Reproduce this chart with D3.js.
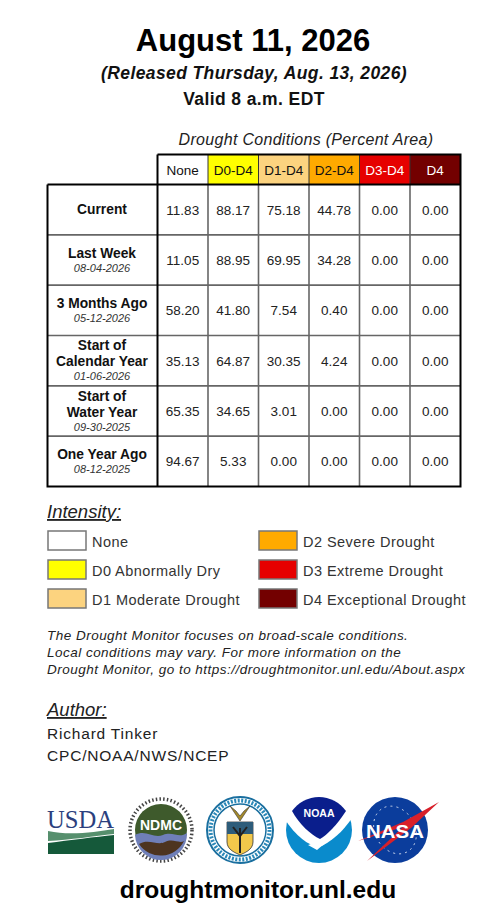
<!DOCTYPE html>
<html><head><meta charset="utf-8">
<script src="https://cdn.jsdelivr.net/npm/d3@7/dist/d3.min.js"></script>
<style>html,body{margin:0;padding:0;background:#fff}svg{display:block}text{font-family:"Liberation Sans",Arial,sans-serif;fill:#111}</style>
</head><body><div id="c"></div>
<script>
const columns=["None","D0-D4","D1-D4","D2-D4","D3-D4","D4"];
const columnFills=["#ffffff","#ffff00","#fcd37f","#ffaa00","#e60000","#730000"];
const columnText=["#111","#111","#111","#111","#fff","#fff"];
const rowLabels=[["Current"],["Last Week"],["3 Months Ago"],["Start of","Calendar Year"],["Start of","Water Year"],["One Year Ago"]];
const rowDates=["","08-04-2026","05-12-2026","01-06-2026","09-30-2025","08-12-2025"];
const valuesNone=[11.83,11.05,58.20,35.13,65.35,94.67];
const valuesD0=[88.17,88.95,41.80,64.87,34.65,5.33];
const valuesD1=[75.18,69.95,7.54,30.35,3.01,0.00];
const valuesD2=[44.78,34.28,0.40,4.24,0.00,0.00];
const valuesD3=[0,0,0,0,0,0];
const valuesD4=[0,0,0,0,0,0];
const seriesValues=[valuesNone,valuesD0,valuesD1,valuesD2,valuesD3,valuesD4];
const legendLeft=[["None","#ffffff"],["D0 Abnormally Dry","#ffff00"],["D1 Moderate Drought","#fcd37f"]];
const legendRight=[["D2 Severe Drought","#ffaa00"],["D3 Extreme Drought","#e60000"],["D4 Exceptional Drought","#730000"]];
const note=["The Drought Monitor focuses on broad-scale conditions.","Local conditions may vary. For more information on the","Drought Monitor, go to https://droughtmonitor.unl.edu/About.aspx"];
const authorLines=["Richard Tinker","CPC/NOAA/NWS/NCEP"];

const svg=d3.select("#c").append("svg").attr("width",481).attr("height",916);
const T=(x,y,s,size,o={})=>svg.append("text").attr("x",x).attr("y",y).text(s).attr("font-size",size)
 .attr("text-anchor",o.a||"start").attr("font-weight",o.b?"bold":null).attr("font-style",o.i?"italic":null)
 .style("fill",o.c||null).attr("text-decoration",o.u?"underline":null).attr("letter-spacing",o.ls||null);
T(253,51,"August 11, 2026",31,{a:"middle",b:1,c:"#000"});
T(254,79,"(Released Thursday, Aug. 13, 2026)",17.5,{a:"middle",b:1,i:1,ls:.4});
T(254,105,"Valid 8 a.m. EDT",17.5,{a:"middle",b:1,ls:.4});
T(306,145,"Drought Conditions (Percent Area)",16,{a:"middle",i:1,c:"#222",ls:.3});

const x=d3.scaleBand().domain(d3.range(columns.length)).range([157.5,460.5]);
const y=d3.scaleBand().domain(d3.range(rowLabels.length)).range([184.5,486.5]);
const headTop=154.5;
svg.selectAll("rect.h").data(columns).join("rect").attr("x",(d,i)=>x(i)).attr("y",headTop)
 .attr("width",x.bandwidth()).attr("height",y(0)-headTop).attr("fill",(d,i)=>columnFills[i]);
svg.selectAll("text.h").data(columns).join("text").attr("x",(d,i)=>x(i)+x.bandwidth()/2).attr("y",175)
 .attr("text-anchor","middle").attr("font-size",13.5).text(d=>d).style("fill",(d,i)=>columnText[i]);
const grey="#666";
svg.selectAll("line.v").data(d3.range(1,columns.length)).join("line").attr("x1",i=>x(i)).attr("x2",i=>x(i))
 .attr("y1",y(0)).attr("y2",486.5).attr("stroke",grey).attr("stroke-width",1.6);
svg.selectAll("line.hr").data(d3.range(1,rowLabels.length)).join("line").attr("y1",i=>y(i)).attr("y2",i=>y(i))
 .attr("x1",47.5).attr("x2",460.5).attr("stroke",grey).attr("stroke-width",1.6);
svg.selectAll("line.hv").data(d3.range(1,columns.length)).join("line").attr("x1",i=>x(i)).attr("x2",i=>x(i))
 .attr("y1",headTop).attr("y2",y(0)).attr("stroke","#333").attr("stroke-width",1);
seriesValues.forEach((vals,c)=>{
 svg.selectAll(null).data(vals).join("text").attr("x",x(c)+x.bandwidth()/2).attr("y",(d,r)=>y(r)+y.bandwidth()/2+5)
  .attr("text-anchor","middle").attr("font-size",13.5).style("fill","#222").text(d=>d.toFixed(2));
});
rowLabels.forEach((ls,r)=>{
 const cx=102, m=y(r)+y.bandwidth()/2;
 const dated=rowDates[r]!=="";
 const lh=16;
 const total=ls.length*lh+(dated?11:0);
 let ty=m-total/2+12+(dated?-1:0);
 if(!dated) ty=m+4.5;
 ls.forEach((s,i)=>T(cx,ty+i*lh,s,13.8,{a:"middle",b:1}));
 if(dated) T(cx,ty+(ls.length-1)*lh+14,rowDates[r],11,{a:"middle",i:1,c:"#333"});
});
const path=d3.path();
path.moveTo(47.5,y(0));path.lineTo(460.5,y(0));
path.moveTo(157.5,headTop);path.lineTo(460.5,headTop);path.lineTo(460.5,486.5);path.lineTo(47.5,486.5);path.lineTo(47.5,y(0));
path.moveTo(157.5,headTop);path.lineTo(157.5,486.5);
svg.append("path").attr("d",path.toString()).attr("fill","none").attr("stroke","#000").attr("stroke-width",2);

T(47,518,"Intensity:",18.5,{i:1,u:1,c:"#222"});
const ly=d3.scaleBand().domain([0,1,2]).range([530,617]);
const drawLegend=(items,xb,xt)=>{
 svg.selectAll(null).data(items).join("rect").attr("x",xb).attr("y",(d,i)=>ly(i)+1).attr("width",38).attr("height",19)
  .attr("fill",d=>d[1]).attr("stroke","#777").attr("stroke-width",1.5);
 svg.selectAll(null).data(items).join("text").attr("x",xt).attr("y",(d,i)=>ly(i)+16.6).attr("font-size",14.5)
  .attr("letter-spacing",0.45).style("fill","#333").text(d=>d[0]);
};
drawLegend(legendLeft,48,92);
drawLegend(legendRight,259,303);
note.forEach((s,i)=>T(47,640+i*17,s,13.5,{i:1,c:"#222",ls:.48}));
T(47,716,"Author:",18.5,{i:1,u:1,c:"#222"});
authorLines.forEach((s,i)=>T(47,739+i*22,s,15.5,{c:"#222",ls:.8}));

const g=svg.append("g");
g.append("text").attr("x",47).attr("y",828).attr("font-size",25).attr("textLength",67).attr("lengthAdjust","spacingAndGlyphs").style("font-family","Liberation Serif").style("fill","#2b3f7e").text("USDA");
g.append("path").attr("d","M48 831 C70 836,95 832,114 829 L114 834 C95 836,70 840,48 841Z").attr("fill","#1d6a3c").attr("opacity",.75);
g.append("path").attr("d","M48 843 C70 840,95 837,114 835 L114 854 L48 854Z").attr("fill","#15593a");
const nd=g.append("g").attr("transform","translate(161,830)");
nd.append("circle").attr("r",31).attr("fill","none").attr("stroke","#444").attr("stroke-width",3.5).attr("stroke-dasharray","1.5 2.2");
nd.append("circle").attr("r",26).attr("fill","#3e5a2c");
nd.append("path").attr("d","M-26 5 C-15 -1,-8 9,2 5 C12 1,18 9,26 3 A26 26 0 0 1 -26 5Z").attr("fill","#6f7fb8");
nd.append("path").attr("d","M-22 14 C-12 8,-4 16,4 12 C12 8,18 14,23 11 A26 26 0 0 1 -22 14Z").attr("fill","#4d3420");
nd.append("text").attr("text-anchor","middle").attr("y",0).attr("font-size",14).attr("font-weight","bold").style("fill","#fff").text("NDMC");
const dc=g.append("g").attr("transform","translate(240,830)");
dc.append("circle").attr("r",33).attr("fill","#fff").attr("stroke","#1a6f9f").attr("stroke-width",2);
dc.append("circle").attr("r",26).attr("fill","#fff").attr("stroke","#1a6f9f").attr("stroke-width",1.5);
dc.append("circle").attr("r",29.5).attr("fill","none").attr("stroke","#2a88b8").attr("stroke-width",4).attr("stroke-dasharray","2 1.5");
dc.append("path").attr("d","M-13 -8 H13 V12 C13 20,4 23,0 25 C-4 23,-13 20,-13 12Z").attr("fill","#f2c84b").attr("stroke","#333").attr("stroke-width",.8);
dc.append("path").attr("d","M-13 -8 H13 V4 H-13Z").attr("fill","#2d5c7a");
dc.append("path").attr("d","M0 -2 V23 M-7 -3 L0 6 L7 -3").attr("stroke","#222").attr("stroke-width",2).attr("fill","none");
dc.append("path").attr("d","M-10 -24 L-2 -12 L0 -9 L2 -12 L10 -24 L4 -19 L0 -14 L-4 -19Z").attr("fill","#a58a2a").attr("stroke","#333").attr("stroke-width",.6);
const no=g.append("g").attr("transform","translate(319,830)");
no.append("circle").attr("r",33).attr("fill","#0a8bcc");
no.append("path").attr("d","M-35 -12 C-22 8,-8 18,3 16 C18 8,28 -4,35 -15 L35 -35 L-35 -35Z").attr("fill","#fff");
no.append("path").attr("d","M-27 -19 A33 33 0 0 1 27 -19 C18 -5,8 5,1 9 C-8 5,-20 -6,-27 -19Z").attr("fill","#0a1e8c");
no.append("path").attr("d","M-11 15 L16 6 L5 14 L-2 20Z").attr("fill","#fff");
no.append("text").attr("text-anchor","middle").attr("y",-13).attr("font-size",10.5).attr("font-weight","bold").style("fill","#fff").text("NOAA");
const na=g.append("g").attr("transform","translate(395,830)");
na.append("circle").attr("r",33).attr("fill","#0b3d9c");
na.append("ellipse").attr("rx",20).attr("ry",25).attr("fill","none").attr("stroke","#fff").attr("stroke-width",.7).attr("stroke-dasharray","2 4").attr("transform","rotate(-30)");
na.append("path").attr("d","M-37 11 L8 -8 L44 -28 L16 -2 L-28 31 L8 -3 L-37 11Z").attr("fill","#d8202a");
na.append("text").attr("text-anchor","middle").attr("y",8).attr("font-size",18).attr("font-weight","bold").attr("textLength",58).attr("lengthAdjust","spacingAndGlyphs").style("fill","#fff").text("NASA");
T(258,898,"droughtmonitor.unl.edu",24.5,{a:"middle",b:1,c:"#000"});
</script></body></html>
